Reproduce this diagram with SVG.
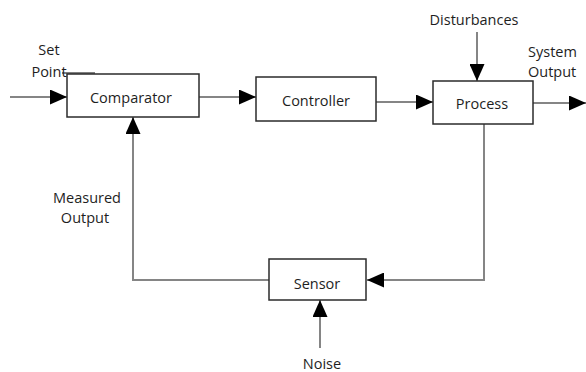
<svg xmlns="http://www.w3.org/2000/svg" width="586" height="372" viewBox="0 0 586 372">
  <style>
    .box { fill: #ffffff; stroke: #2b2b2b; stroke-width: 1.5; }
    .lbl { font-family: "Open Sans", "Liberation Sans", sans-serif; font-size: 14.5px; fill: #1e1e1e; }
    .mid { text-anchor: middle; dominant-baseline: central; }
    .wire { fill: none; stroke: #858585; stroke-width: 2; }
  </style>
  <defs>
    <marker id="head" markerUnits="userSpaceOnUse" markerWidth="17" markerHeight="15" refX="17" refY="7.5" orient="auto">
      <path d="M0,0 L17,7.5 L0,15 Z" fill="#000000"/>
    </marker>
  </defs>
  <rect width="586" height="372" fill="#ffffff"/>

  <g id="connectors">
    <!-- set point input -->
    <line class="wire" x1="10" y1="97" x2="67" y2="97" marker-end="url(#head)"/>
    <line x1="62" y1="73" x2="95" y2="73" stroke="#555555" stroke-width="1.5"/>
    <!-- forward path -->
    <line class="wire" x1="199" y1="97" x2="256" y2="97" marker-end="url(#head)"/>
    <line class="wire" x1="376" y1="102" x2="433" y2="102" marker-end="url(#head)"/>
    <line class="wire" x1="533" y1="103" x2="586" y2="103" marker-end="url(#head)"/>
    <!-- disturbances -->
    <line class="wire" x1="477" y1="32" x2="477" y2="81" marker-end="url(#head)"/>
    <!-- feedback loop -->
    <polyline class="wire" points="484,124 484,280 367,280" marker-end="url(#head)"/>
    <polyline class="wire" points="269,280 133,280 133,117" marker-end="url(#head)"/>
    <!-- noise -->
    <line class="wire" x1="320" y1="348" x2="320" y2="300" marker-end="url(#head)"/>
  </g>

  <g id="comparator">
    <rect class="box" x="67" y="74" width="132" height="43"/>
    <text class="lbl mid" x="131" y="97">Comparator</text>
  </g>
  <g id="controller">
    <rect class="box" x="256" y="77" width="120" height="44"/>
    <text class="lbl mid" x="316" y="100">Controller</text>
  </g>
  <g id="process">
    <rect class="box" x="433" y="81" width="100" height="43"/>
    <text class="lbl mid" x="482" y="103">Process</text>
  </g>
  <g id="sensor">
    <rect class="box" x="269" y="259" width="97" height="41"/>
    <text class="lbl mid" x="317" y="283">Sensor</text>
  </g>

  <g id="labels">
    <text class="lbl" x="49" y="55" text-anchor="middle">Set</text>
    <text class="lbl" x="49" y="77" text-anchor="middle">Point</text>
    <text class="lbl" x="474" y="25" text-anchor="middle">Disturbances</text>
    <text class="lbl" x="528" y="57">System</text>
    <text class="lbl" x="528" y="77">Output</text>
    <text class="lbl" x="87" y="203" text-anchor="middle">Measured</text>
    <text class="lbl" x="85" y="223" text-anchor="middle">Output</text>
    <text class="lbl" x="322" y="369" text-anchor="middle">Noise</text>
  </g>
</svg>
